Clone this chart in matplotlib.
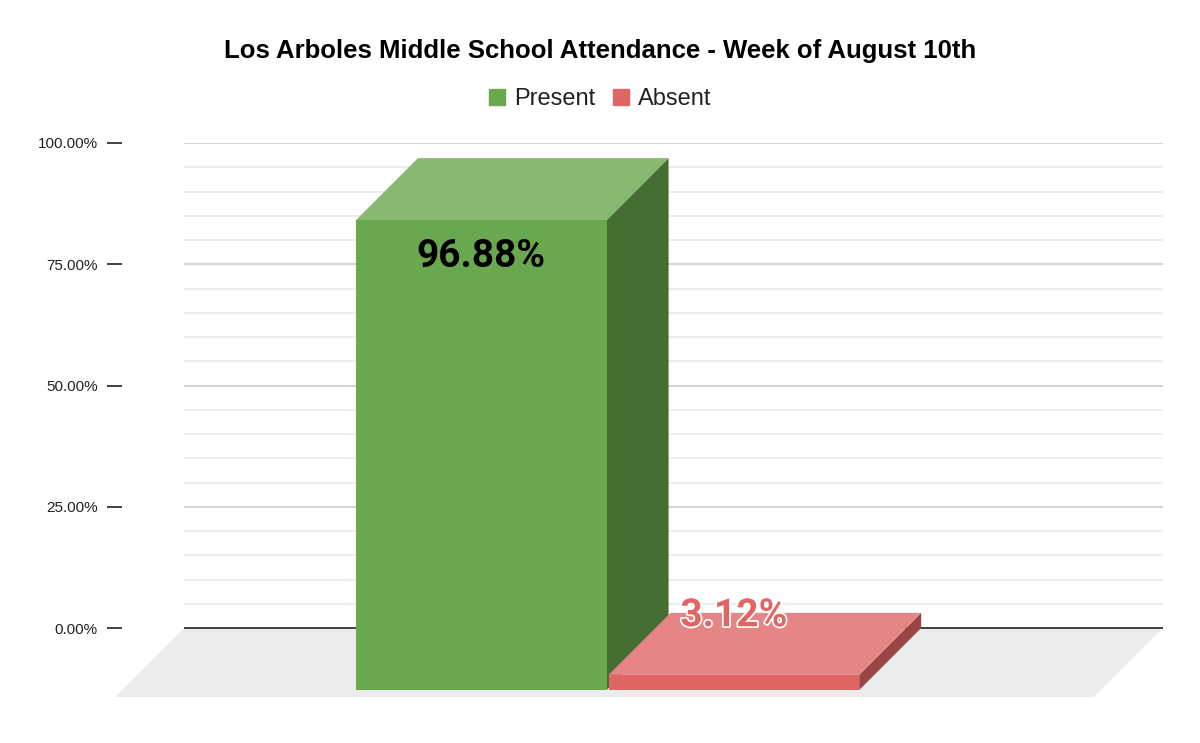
import numpy as np
import matplotlib
matplotlib.use("Agg")
import matplotlib.pyplot as plt
from matplotlib.patches import Polygon
from matplotlib.lines import Line2D
import matplotlib.patheffects as pe

# data
series = ["Present", "Absent"]
values = [96.88, 3.12]
yticks = [0, 25, 50, 75, 100]
ytick_labels = ["0.00%", "25.00%", "50.00%", "75.00%", "100.00%"]
title = "Los Arboles Middle School Attendance - Week of August 10th"

# colours per series: front, top, side
front_cols = ["#6aa84f", "#e06666"]
top_cols = ["#88b872", "#e58585"]
side_cols = ["#466e33", "#994545"]
label_cols = ["#000000", "#e06666"]

# 3d look (data units)
bar_w = 0.256
bar_gap = 0.002
group_mid = 0.496
depth_x, depth_y = -0.0633, -12.78
floor_x, floor_y = -0.0705, -14.23

fig = plt.figure(figsize=(12, 7.43), dpi=100)
ax = fig.add_axes([122 / 1200, 43 / 743, 1041 / 1200, 557 / 743])
ax.set_xlim(-0.0633, 1)
ax.set_ylim(-14.845, 100)
for s in ax.spines.values():
    s.set_visible(False)
ax.set_xticks([])
ax.set_yticks(yticks)
ax.set_yticklabels(ytick_labels, fontfamily="Liberation Sans", fontsize=11, color="#222222")
ax.tick_params(axis="y", length=10.8, width=1.3, color="#333333", pad=6.5)

# back wall grid
for g in range(5, 101, 5):
    major = g % 25 == 0
    ax.plot([0, 1], [g, g], color="#d4d4d4" if major else "#e9e9e9",
            lw=1.5 if major else 1.2, zorder=1, solid_capstyle="butt")

# floor
floor = Polygon([(0, 0), (1, 0), (1 + floor_x, floor_y), (floor_x, floor_y)],
                closed=True, facecolor="#ececec", edgecolor="none", zorder=2, clip_on=False)
ax.add_patch(floor)
ax.plot([0, 1], [0, 0], color="#333333", lw=1.3, zorder=3, solid_capstyle="butt")

# bars
left0 = group_mid - (len(values) * bar_w + (len(values) - 1) * bar_gap) / 2
for i, v in enumerate(values):
    x0 = left0 + i * (bar_w + bar_gap)
    x1 = x0 + bar_w
    z = 4 + i * 3
    front = [(x0 + depth_x, depth_y), (x1 + depth_x, depth_y),
             (x1 + depth_x, v + depth_y), (x0 + depth_x, v + depth_y)]
    top = [(x0 + depth_x, v + depth_y), (x1 + depth_x, v + depth_y), (x1, v), (x0, v)]
    side = [(x1 + depth_x, depth_y), (x1, 0), (x1, v), (x1 + depth_x, v + depth_y)]
    ax.add_patch(Polygon(side, closed=True, facecolor=side_cols[i], edgecolor="none", zorder=z, clip_on=False))
    ax.add_patch(Polygon(top, closed=True, facecolor=top_cols[i], edgecolor="none", zorder=z + 1, clip_on=False))
    ax.add_patch(Polygon(front, closed=True, facecolor=front_cols[i], edgecolor="none", zorder=z + 2, clip_on=False))

    cx = x0 + depth_x + bar_w / 2
    txt = f"{v:.2f}%"
    if v > 20:
        t = ax.text(cx, v + depth_y - 7.6, txt, ha="center", va="center",
                    fontfamily="Roboto", fontweight="bold", fontsize=28,
                    color=label_cols[i], zorder=20)
    else:
        t = ax.text(cx, v - 0.6, txt, ha="center", va="center",
                    fontfamily="Roboto", fontweight="bold", fontsize=28,
                    color=label_cols[i], zorder=20)
        t.set_path_effects([pe.Stroke(linewidth=2.5, foreground="white"), pe.Normal()])

fig.text(0.5, 1 - 51 / 743, title, ha="center", va="center",
         fontfamily="Liberation Sans", fontweight="bold", fontsize=18.5, color="#000000")

handles = [Line2D([], [], marker="s", ls="none", markersize=11,
                  markerfacecolor=front_cols[i], markeredgecolor=front_cols[i])
           for i in range(len(series))]
leg = fig.legend(handles, series, loc="center", bbox_to_anchor=(0.5, 1 - 99 / 743),
                 ncol=2, frameon=False, handlelength=0.7, handletextpad=0.35,
                 columnspacing=0.75, prop={"family": "Liberation Sans", "size": 17})
for t in leg.get_texts():
    t.set_color("#222222")

fig.savefig("out.png", dpi=100, facecolor="white")
